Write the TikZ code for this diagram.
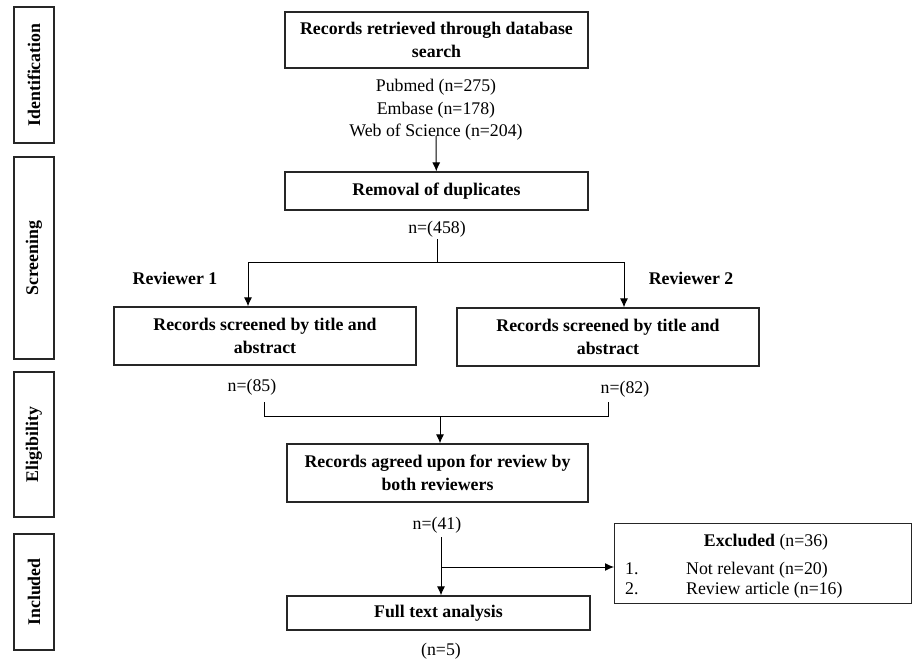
\documentclass[tikz,border=0pt]{standalone}
\usepackage{fontspec}
\setmainfont{Liberation Serif}
\usetikzlibrary{shapes,arrows,arrows.meta,positioning}
\tikzstyle{line} = [draw, line width=1pt, -{Latex[length=9pt,width=8pt]}]
\tikzstyle{box} = [draw=black!85, line width=1.2pt, align=center, inner sep=0pt,
   font=\bfseries\fontsize{17.8}{22.5}\selectfont]
\tikzstyle{phase} = [draw=black!85, line width=1.6pt, rotate=90, minimum height=40pt,
   inner sep=0pt, font=\bfseries\fontsize{17.8}{22.5}\selectfont]
\tikzstyle{count} = [align=center, inner sep=0pt, font=\fontsize{17.8}{22.5}\selectfont]
\tikzstyle{reviewer} = [inner sep=0pt, font=\bfseries\fontsize{17.8}{22.5}\selectfont]

\begin{document}
\begin{tikzpicture}[x=1pt,y=-1pt]
\useasboundingbox (0,0) rectangle (913,663);

%\draw[help lines,step=50] (0,0) grid (913,663);

% phases
\node[phase, minimum width=136pt] (ident) at (34,75) {Identification};
\node[phase, minimum width=202pt] (screen) at (34,258) {Screening};
\node[phase, minimum width=145pt] (elig) at (34,444.5) {Eligibility};
\node[phase, minimum width=116pt] (incl) at (34,592) {Included};

% identification
\node[box, minimum width=303pt, minimum height=56pt] (search) at (436.5,40)
	{Records retrieved through database\\search};
\node[count] (sources) at (436,110) {Pubmed (n=275)\\Embase (n=178)\\Web of Science (n=204)};
\node[box, minimum width=303pt, minimum height=38pt] (dup) at (436.5,191) {Removal of duplicates};
\node[count] (n458) at (437,229) {n=(458)};

\draw[line] ([yshift=5pt]sources.south) -- (dup);

% screening by two reviewers
\node[reviewer] (revA) at (175,278) {Reviewer 1};
\node[reviewer] (revB) at (691,278) {Reviewer 2};
\node[box, minimum width=302pt, minimum height=58pt] (rev1) at (265,336)
	{Records screened by title and\\abstract};
\node[box, minimum width=302pt, minimum height=58pt] (rev2) at (608,337)
	{Records screened by title and\\abstract};
\node[count] (n85) at (252,387) {n=(85)};
\node[count] (n82) at (625,389) {n=(82)};

\coordinate (split) at (437,262);
\draw[line width=1pt] ([yshift=-2pt]n458.south) -- (split);
\draw[line] (split) -| ([xshift=-17pt]rev1.north);
\draw[line] (split) -| ([xshift=16pt]rev2.north);

% eligibility
\node[box, minimum width=301pt, minimum height=58pt] (agreed) at (437.5,473)
	{Records agreed upon for review by\\both reviewers};
\node[count] (n41) at (437,525) {n=(41)};

\coordinate (b1) at (264,402);
\coordinate (b2) at (608,402);
\coordinate (merge) at (440,416);
\draw[line width=1pt] (b1) -- ++(0,14) -| (b2);
\draw[line] (merge) -- (merge |- agreed.north);

% included
\node[box, minimum width=303pt, minimum height=34pt] (full) at (438.5,613) {Full text analysis};
\node[count] (n5) at (441,651) {(n=5)};

\node[box, anchor=north west, minimum width=297pt, minimum height=80pt] (excl) at (614,523) {};
\node[count] (exclhead) at (766,542) {\textbf{Excluded} (n=36)};
\node[count, anchor=base west] (num1) at (625,574) {1.};
\node[count, anchor=base west] (why1) at (686,574) {Not relevant (n=20)};
\node[count, anchor=base west] (num2) at (625,594) {2.};
\node[count, anchor=base west] (why2) at (686,594) {Review article (n=16)};

\coordinate (fork) at (441,567);
\draw[line] ([yshift=-4pt]n41.south -| fork) -- (fork |- full.north);
\draw[line] (fork) -- (fork -| excl.west);
\end{tikzpicture}
\end{document}
